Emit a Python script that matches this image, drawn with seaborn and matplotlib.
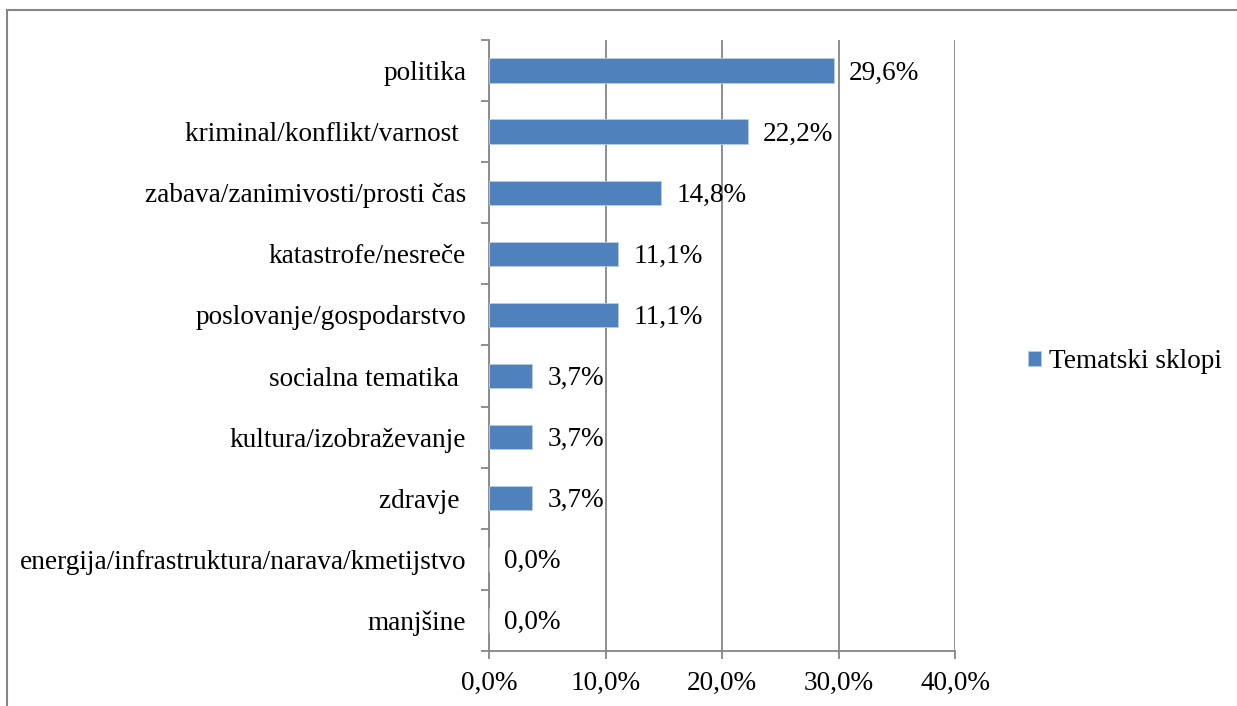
import matplotlib
matplotlib.use('Agg')
import matplotlib.pyplot as plt
import seaborn as sns
import pandas as pd
from matplotlib.patches import Rectangle
from matplotlib.ticker import FuncFormatter, FixedLocator

categories = ['politika', 'kriminal/konflikt/varnost ', 'zabava/zanimivosti/prosti čas',
              'katastrofe/nesreče', 'poslovanje/gospodarstvo', 'socialna tematika ',
              'kultura/izobraževanje', 'zdravje ', 'energija/infrastruktura/narava/kmetijstvo',
              'manjšine']
values = [29.6, 22.2, 14.8, 11.1, 11.1, 3.7, 3.7, 3.7, 0.0, 0.0]
series_name = 'Tematski sklopi'

df = pd.DataFrame({'tema': categories, 'delez': values})

sns.set_style('white')
plt.rcParams['font.family'] = ['Liberation Serif', 'DejaVu Serif']
fs = 19.6
plt.rcParams['font.size'] = fs
plt.rcParams['text.color'] = 'black'

fig = plt.figure(figsize=(12.37, 7.06), dpi=100)
ax = fig.add_axes([489 / 1237, 1 - 651 / 706, (955 - 489) / 1237, (651 - 40) / 706])

blue = '#4F81BD'
sns.barplot(data=df, y='tema', x='delez', color=blue, saturation=1, width=0.4, ax=ax,
            label=series_name, edgecolor='#B9CDE5', linewidth=0.6, zorder=3)

ax.set_xlim(0, 40)
ax.set_ylim(9.5, -0.5)
ax.set_xlabel('')
ax.set_ylabel('')
ax.xaxis.set_major_locator(FixedLocator([0, 10, 20, 30, 40]))
ax.xaxis.set_major_formatter(FuncFormatter(lambda v, p: f'{v:.1f}%'.replace('.', ',')))
ax.grid(axis='x', color='#868686', linewidth=1.3, zorder=0)
ax.grid(axis='y', visible=False)

# y ticks at category boundaries, labels at category centres
ax.set_yticks([i - 0.5 for i in range(len(categories) + 1)])
ax.set_yticklabels([])
ax.set_yticks(range(len(categories)), minor=True)
ax.set_yticklabels(categories, minor=True, fontsize=fs)
ax.tick_params(axis='y', which='minor', length=0, pad=16.5, labelcolor='black')
ax.tick_params(axis='y', which='major', length=6, color='#868686', width=1.3, direction='out', left=True)
ax.tick_params(axis='x', length=6, color='#868686', width=1.3, direction='out', bottom=True,
               pad=8.5, labelsize=fs, labelcolor='black')

for s in ['top', 'right']:
    ax.spines[s].set_visible(False)
for s in ['left', 'bottom']:
    ax.spines[s].set_color('#868686')
    ax.spines[s].set_linewidth(1.3)

for i, v in enumerate(values):
    ax.text(v + 1.3, i + 0.04, f'{v:.1f}%'.replace('.', ','), va='center', ha='left',
            fontsize=fs, color='black', zorder=4)

leg = ax.legend(loc='center left', bbox_to_anchor=(1004 / 1237, 1 - 362 / 706),
                bbox_transform=fig.transFigure, frameon=False, handlelength=0.45,
                handleheight=0.45, handletextpad=0.3, fontsize=fs)
for t in leg.get_texts():
    t.set_color('black')

fig.patches.append(Rectangle((7 / 1237, -0.05), 1.2, 1 - 10 / 706 + 0.05, transform=fig.transFigure,
                             fill=False, edgecolor='#868686', linewidth=1.5, zorder=0))

fig.savefig('out.png', dpi=100)
